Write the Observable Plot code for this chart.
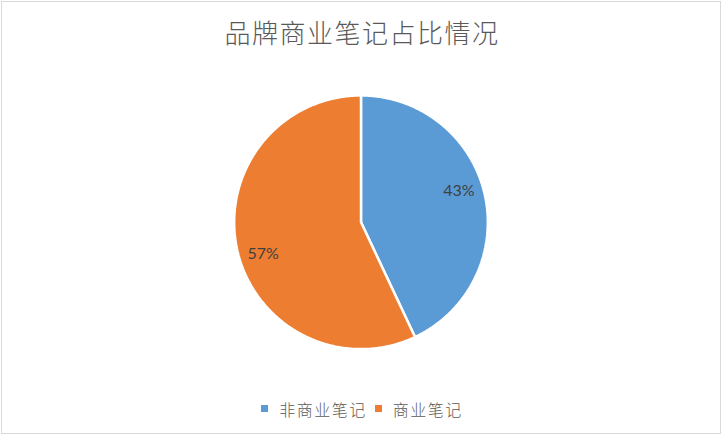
<!DOCTYPE html>
<html>
<head>
<meta charset="utf-8">
<script src="https://cdn.jsdelivr.net/npm/d3@7"></script>
<script src="https://cdn.jsdelivr.net/npm/@observablehq/plot@0.6"></script>
<style>
  html, body { margin: 0; padding: 0; background: #fff; }
  #frame { position: absolute; left: 1px; top: 1px; width: 718px; height: 431px; border: 1px solid #d9d9d9; background: #fff; box-sizing: content-box; }
  #title { position: absolute; left: 0; top: 11px; width: 720px; text-align: center; font-family: "Noto Sans CJK SC", sans-serif; font-weight: 300; font-size: 26px; letter-spacing: 1.5px; color: #595959; line-height: 38px; }
  #chart { position: absolute; left: -3px; top: 69px; }
  #legend { position: absolute; left: 0; top: 392px; width: 720px; text-align: center; font-family: "Noto Sans CJK SC", sans-serif; font-weight: 300; font-size: 16px; letter-spacing: 1.5px; color: #595959; line-height: 22px; }
  .item { display: inline-flex; align-items: center; margin: 0 4px; }
  .sw { display: inline-block; width: 7px; height: 7px; margin-right: 11px; }
</style>
</head>
<body>
<div id="frame">
  <div id="title"></div>
  <div id="chart"></div>
  <div id="legend"></div>
</div>
<script>
const title = "品牌商业笔记占比情况";
const categories = ["非商业笔记", "商业笔记"];
const values = [43, 57];
const colors = ["#5B9BD5", "#ED7D31"];

document.getElementById("title").textContent = title;

const total = d3.sum(values);
// slice angles (clockwise from 12 o'clock)
let acc = 0;
const slices = categories.map((c, i) => {
  const a0 = acc / total * 2 * Math.PI;
  acc += values[i];
  const a1 = acc / total * 2 * Math.PI;
  return {category: c, value: values[i], a0, a1};
});

// polygon outline for each slice (center -> arc -> center)
const outline = [];
for (const s of slices) {
  outline.push({category: s.category, x: 0, y: 0});
  const n = Math.max(2, Math.ceil((s.a1 - s.a0) / 0.01));
  for (let k = 0; k <= n; k++) {
    const a = s.a0 + (s.a1 - s.a0) * k / n;
    outline.push({category: s.category, x: Math.sin(a), y: Math.cos(a)});
  }
  outline.push({category: s.category, x: 0, y: 0});
}

// label placement: near mid-angle, inside the slice
const labels = slices.map(s => {
  const m = (s.a0 + s.a1) / 2 - 0.09;
  return {label: Math.round(s.value / total * 100) + "%", x: 0.81 * Math.sin(m), y: 0.81 * Math.cos(m)};
});

const R = 127, cx = 362, cy = 151;
const chart = Plot.plot({
  width: 722,
  height: 300,
  margin: 0,
  x: {domain: [-1, 1], range: [cx - R, cx + R], axis: null},
  y: {domain: [-1, 1], range: [cy + R, cy - R], axis: null},
  color: {domain: categories, range: colors},
  marks: [
    Plot.line(outline, {x: "x", y: "y", z: "category", fill: "category", stroke: "white", strokeWidth: 2.5, strokeLinejoin: "miter", curve: "linear"}),
    Plot.text(labels, {x: "x", y: "y", text: "label", fill: "#404040", fontSize: 16, fontFamily: "Lato, 'Open Sans', sans-serif"})
  ],
  style: {background: "transparent"}
});
document.getElementById("chart").appendChild(chart);

const legend = document.getElementById("legend");
categories.forEach((c, i) => {
  const item = document.createElement("span");
  item.className = "item";
  const sw = document.createElement("span");
  sw.className = "sw";
  sw.style.background = colors[i];
  item.appendChild(sw);
  item.appendChild(document.createTextNode(c));
  legend.appendChild(item);
});
</script>
</body>
</html>
